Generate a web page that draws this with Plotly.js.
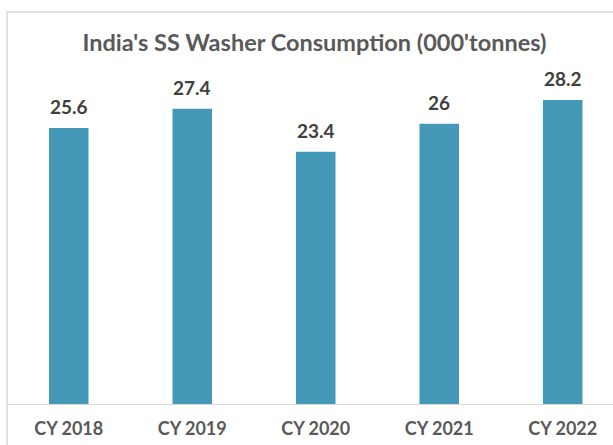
<!DOCTYPE html>
<html>
<head>
<meta charset="utf-8">
<script src="https://cdn.plot.ly/plotly-3.0.1.min.js"></script>
<style>html,body{margin:0;padding:0;background:#fff;}#chart{width:613px;height:445px;}</style>
</head>
<body>
<div id="chart"></div>
<script>
const categories = ["CY 2018", "CY 2019", "CY 2020", "CY 2021", "CY 2022"];
const consumption = [25.6, 27.4, 23.4, 26, 28.2];
const chartTitle = "India's SS Washer Consumption (000'tonnes)";

const fontFam = "Lato, 'Open Sans', sans-serif";

const trace = {
  type: "bar",
  x: categories,
  y: consumption,
  marker: {color: "#4399b7", line: {width: 0}},
  width: 0.32,
  hoverinfo: "x+y"
};

const annotations = categories.map((c, i) => ({
  x: c, y: consumption[i], xref: "x", yref: "y",
  text: String(consumption[i]),
  showarrow: false, yanchor: "bottom", yshift: 8,
  font: {family: fontFam, size: 19, color: "#404040", weight: "bold"}
}));

const layout = {
  width: 613, height: 445,
  margin: {l: 7, r: 0, t: 40, b: 41},
  paper_bgcolor: "#fff", plot_bgcolor: "#fff",
  showlegend: false,
  title: {
    text: "<b>" + chartTitle + "</b>",
    x: 0.513, xanchor: "center", y: 0.905, yanchor: "middle",
    font: {family: fontFam, size: 23.5, color: "#595959"}
  },
  xaxis: {
    type: "category",
    range: [-0.5, 4.407],
    showline: true, linecolor: "#d9d9d9", linewidth: 1,
    ticks: "", showgrid: false, zeroline: false,
    tickfont: {family: fontFam, size: 18, color: "#595959", weight: "bold"},
    ticklabelstandoff: 8
  },
  yaxis: {
    range: [0, 33.77],
    visible: false, showgrid: false, zeroline: false
  },
  annotations: annotations,
  shapes: [{
    type: "rect", xref: "paper", yref: "paper",
    x0: 0, x1: 1.2, y0: -0.3, y1: 1.077,
    line: {color: "#d9d9d9", width: 1.5}, fillcolor: "rgba(0,0,0,0)", layer: "below"
  }]
};

Plotly.newPlot("chart", [trace], layout, {staticPlot: true, displayModeBar: false});
</script>
</body>
</html>
